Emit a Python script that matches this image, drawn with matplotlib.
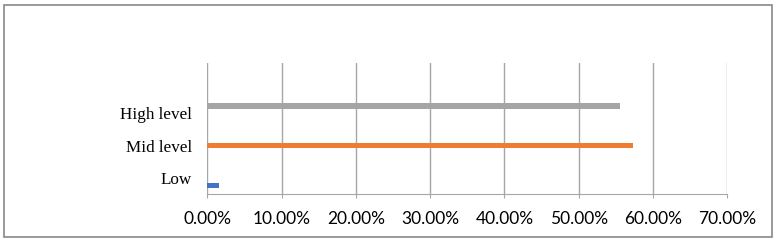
import matplotlib
matplotlib.use("Agg")
import matplotlib.pyplot as plt
from matplotlib.patches import Rectangle
from matplotlib.ticker import FuncFormatter

categories = ["Low", "Mid level", "High level"]
values = [1.6, 57.3, 55.6]  # percent
colors = ["#4472C4", "#ED7D31", "#A5A5A5"]
xticks = [0, 10, 20, 30, 40, 50, 60, 70]

fig = plt.figure(figsize=(7.77, 2.40), dpi=100)
ax = fig.add_axes([0.267, 0.1917, 0.6687, 0.5458])

offset = 0.23
for i, (v, c) in enumerate(zip(values, colors)):
    ax.barh(i + (i - 1) * offset, v, height=0.18, color=c, zorder=3)

ax.set_xlim(0, 70)
ax.set_ylim(-0.49, 3.54)
ax.set_xticks(xticks)
ax.xaxis.set_major_formatter(FuncFormatter(lambda x, p: f"{x:.2f}%"))
ax.set_yticks(range(len(categories)))
ax.set_yticklabels(categories, fontfamily="Liberation Serif", fontsize=12.3)
for lbl in ax.get_xticklabels():
    lbl.set_fontfamily("Lato")
    lbl.set_fontsize(12.5)

ax.grid(axis="x", color="#A6A6A6", linewidth=1, zorder=0)
for s in ["top", "right", "left"]:
    ax.spines[s].set_visible(False)
ax.spines["bottom"].set_color("#A6A6A6")
ax.tick_params(axis="x", length=3, color="#A6A6A6", pad=9, labelcolor="#000000")
ax.tick_params(axis="y", length=0, pad=11)

fig.patches.append(Rectangle((4 / 777, 3 / 240), 768 / 777, 232 / 240,
                             transform=fig.transFigure, fill=False,
                             edgecolor="#888888", linewidth=1.2))

fig.savefig("out.png", dpi=100)
